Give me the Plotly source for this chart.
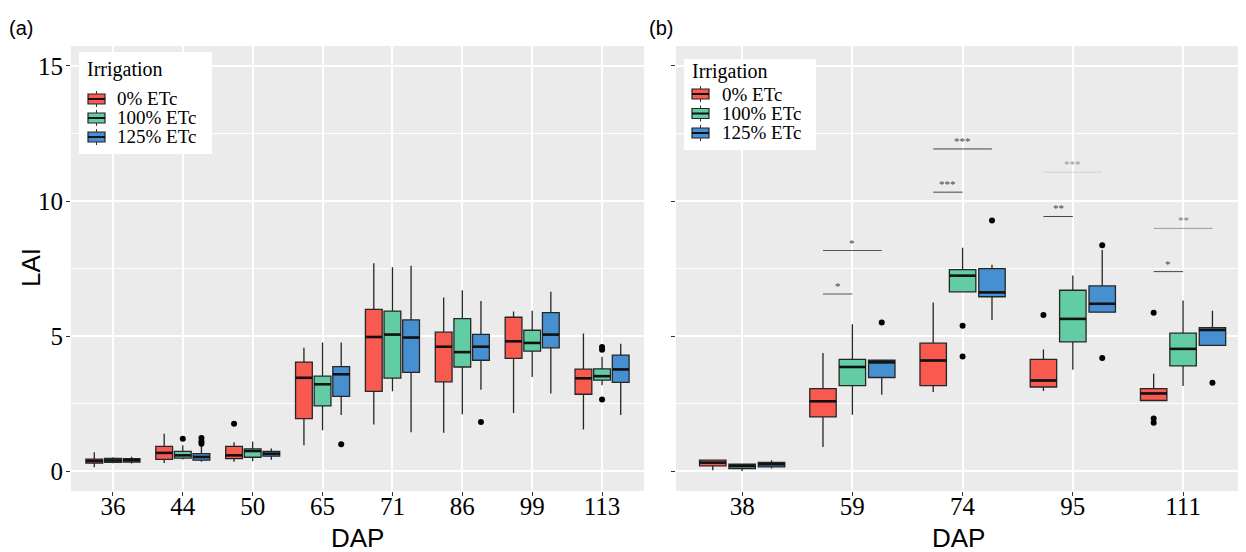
import plotly.graph_objects as go

# page body has an 8px margin: figure is sized to fit inside the window
OFF = 8
W, H = 1246 - OFF, 552 - OFF

series = ["0% ETc", "100% ETc", "125% ETc"]
colors = ["#F85A50", "#62CDA4", "#4690D2"]

# ---------------- Panel (a) ----------------
dap_a = ["36", "44", "50", "65", "71", "86", "99", "113"]
# one row per irrigation level, one value per DAP
a_q1 = [[0.30, 0.44, 0.47, 1.95, 2.96, 3.31, 4.18, 2.85],
        [0.33, 0.49, 0.52, 2.42, 3.45, 3.86, 4.45, 3.37],
        [0.34, 0.41, 0.56, 2.77, 3.66, 4.11, 4.57, 3.29]]
a_med = [[0.38, 0.68, 0.59, 3.46, 4.97, 4.61, 4.81, 3.44],
         [0.40, 0.59, 0.75, 3.22, 5.06, 4.41, 4.75, 3.52],
         [0.41, 0.53, 0.65, 3.59, 4.95, 4.61, 5.06, 3.77]]
a_q3 = [[0.45, 0.92, 0.92, 4.04, 5.99, 5.15, 5.70, 3.78],
        [0.48, 0.74, 0.83, 3.52, 5.93, 5.65, 5.22, 3.79],
        [0.47, 0.65, 0.74, 3.87, 5.60, 5.07, 5.87, 4.30]]
a_low = [[0.15, 0.31, 0.35, 0.96, 1.73, 1.43, 2.16, 1.55],
         [0.30, 0.44, 0.37, 1.52, 2.96, 2.11, 3.49, 3.18],
         [0.29, 0.35, 0.43, 2.08, 1.44, 3.02, 2.88, 2.08]]
a_high = [[0.70, 1.39, 1.07, 4.57, 7.70, 6.43, 5.91, 5.10],
          [0.52, 0.96, 1.10, 4.77, 7.55, 6.70, 5.94, 4.24],
          [0.54, 0.96, 0.84, 4.77, 7.61, 6.30, 6.64, 4.72]]
a_out_series = [1, 2, 2, 2, 0, 2, 2, 1, 1, 1]
a_out_dap = ["44", "44", "44", "44", "50", "65", "86", "113", "113", "113"]
a_out_val = [1.20, 1.02, 1.10, 1.23, 1.76, 1.00, 1.82, 4.50, 4.60, 2.66]

# ---------------- Panel (b) ----------------
dap_b = ["38", "59", "74", "95", "111"]
b_q1 = [[0.20, 2.01, 3.17, 3.12, 2.62],
        [0.10, 3.17, 6.64, 4.79, 3.90],
        [0.16, 3.47, 6.46, 5.89, 4.66]]
b_med = [[0.32, 2.59, 4.10, 3.36, 2.88],
         [0.19, 3.86, 7.24, 5.64, 4.53],
         [0.26, 4.03, 6.62, 6.20, 5.23]]
b_q3 = [[0.41, 3.06, 4.74, 4.14, 3.06],
        [0.26, 4.14, 7.46, 6.70, 5.11],
        [0.33, 4.11, 7.50, 6.86, 5.32]]
b_low = [[0.04, 0.90, 2.93, 2.97, 2.62],
         [0.01, 2.09, 6.64, 3.76, 3.16],
         [0.10, 2.83, 5.60, 5.89, 4.66]]
b_high = [[0.44, 4.38, 6.25, 4.51, 3.61],
          [0.29, 5.44, 8.27, 7.25, 6.32],
          [0.41, 4.11, 7.64, 8.19, 5.94]]
b_out_series = [2, 1, 1, 2, 0, 2, 2, 0, 0, 0, 2]
b_out_dap = ["59", "74", "74", "74", "95", "95", "95", "111", "111", "111", "111"]
b_out_val = [5.51, 5.39, 4.25, 9.28, 5.78, 8.37, 4.19, 5.87, 1.95, 1.80, 3.28]

# significance brackets (panel b): from series index to series index at DAP
sig_dap = ["59", "59", "74", "74", "95", "95", "111", "111"]
sig_from = [0, 0, 0, 0, 0, 0, 0, 0]
sig_to = [1, 2, 1, 2, 1, 2, 1, 2]
sig_y = [6.56, 8.17, 10.33, 11.93, 9.43, 11.07, 7.39, 8.99]
sig_label = ["*", "*", "***", "***", "**", "***", "*", "**"]
sig_line_color = ["#555555", "#555555", "#444444", "#444444", "#444444", "#d0d0d0", "#444444", "#999999"]
sig_text_color = ["#444444", "#444444", "#444444", "#444444", "#444444", "#999999", "#444444", "#777777"]

# ---------------- layout constants ----------------
offs = [-0.8 / 3, 0.0, 0.8 / 3]
bw = 0.24
serif = "Liberation Serif"
sans = "Liberation Sans"

def fx(p):  # screen pixel -> paper fraction
    return (p - OFF) / W

def fy(p):
    return 1 - (p - OFF) / H

fig = go.Figure()
shapes = []
annotations = []

def add_panel(cats, q1, med, q3, low, high, oser, odap, oval, xa, ya):
    for s in range(3):
        xs = [i + offs[s] for i in range(len(cats))]
        fig.add_trace(go.Box(
            x=xs, q1=q1[s], median=med[s], q3=q3[s],
            lowerfence=low[s], upperfence=high[s],
            width=bw, whiskerwidth=0, boxpoints=False,
            fillcolor=colors[s], line=dict(color="#262626", width=1.3),
            name=series[s], xaxis=xa, yaxis=ya,
            showlegend=False, hoverinfo="skip"))
        for i in range(len(cats)):
            shapes.append(dict(type="line", xref=xa, yref=ya,
                               x0=xs[i] - bw / 2, x1=xs[i] + bw / 2,
                               y0=med[s][i], y1=med[s][i],
                               line=dict(color="#111111", width=2.6)))
    ox = [cats.index(d) + offs[s] for d, s in zip(odap, oser)]
    fig.add_trace(go.Scatter(x=ox, y=oval, mode="markers", xaxis=xa, yaxis=ya,
                             marker=dict(color="black", size=6),
                             showlegend=False, hoverinfo="skip"))

add_panel(dap_a, a_q1, a_med, a_q3, a_low, a_high,
          a_out_series, a_out_dap, a_out_val, "x", "y")
add_panel(dap_b, b_q1, b_med, b_q3, b_low, b_high,
          b_out_series, b_out_dap, b_out_val, "x2", "y2")

for d, f, t, y, lab, lc, tc in zip(sig_dap, sig_from, sig_to, sig_y, sig_label,
                                    sig_line_color, sig_text_color):
    i = dap_b.index(d)
    x0 = i + offs[f]
    x1 = i + offs[t]
    shapes.append(dict(type="line", xref="x2", yref="y2", x0=x0, x1=x1, y0=y, y1=y,
                       line=dict(color=lc, width=1)))
    annotations.append(dict(x=(x0 + x1) / 2, y=y, xref="x2", yref="y2", text=lab,
                            showarrow=False, xanchor="center", yanchor="bottom", yshift=0,
                            font=dict(family=serif, size=11, color=tc)))

# ---- legends drawn as boxes + real text ----
def add_legend(bx0, bx1, by0, by1, title_x, title_y, icon_x0, icon_x1, item_y0, step, text_x):
    shapes.append(dict(type="rect", xref="paper", yref="paper",
                       x0=fx(bx0), x1=fx(bx1), y0=fy(by1), y1=fy(by0),
                       fillcolor="white", line=dict(width=0), layer="above"))
    annotations.append(dict(text="Irrigation", x=fx(title_x), y=fy(title_y),
                            xref="paper", yref="paper", showarrow=False,
                            xanchor="left", yanchor="middle",
                            font=dict(family=serif, size=20, color="black")))
    cx = (icon_x0 + icon_x1) / 2
    for k, name in enumerate(series):
        cy = item_y0 + step * k
        shapes.append(dict(type="line", xref="paper", yref="paper",
                           x0=fx(cx), x1=fx(cx), y0=fy(cy - 8), y1=fy(cy + 8),
                           line=dict(color="#333333", width=1), layer="above"))
        shapes.append(dict(type="rect", xref="paper", yref="paper",
                           x0=fx(icon_x0), x1=fx(icon_x1), y0=fy(cy + 5), y1=fy(cy - 5),
                           fillcolor=colors[k], line=dict(color="#222222", width=1.2),
                           layer="above"))
        shapes.append(dict(type="line", xref="paper", yref="paper",
                           x0=fx(icon_x0), x1=fx(icon_x1), y0=fy(cy), y1=fy(cy),
                           line=dict(color="#111111", width=2), layer="above"))
        annotations.append(dict(text=name, x=fx(text_x), y=fy(cy),
                                xref="paper", yref="paper", showarrow=False,
                                xanchor="left", yanchor="middle",
                                font=dict(family=serif, size=19, color="black")))

add_legend(79, 212, 52, 154, 85, 69, 88, 105, 99, 19, 115)
add_legend(684, 816, 59, 150, 690, 71, 692, 709, 94, 19.5, 720)

# axis titles and panel tags
annotations += [
    dict(text="DAP", x=fx(357.5), y=fy(538), xref="paper", yref="paper",
         xanchor="center", yanchor="middle",
         showarrow=False, font=dict(family=sans, size=26, color="black")),
    dict(text="DAP", x=fx(958), y=fy(538), xref="paper", yref="paper",
         xanchor="center", yanchor="middle",
         showarrow=False, font=dict(family=sans, size=26, color="black")),
    dict(text="LAI", x=fx(31), y=fy(268), xref="paper", yref="paper",
         xanchor="center", yanchor="middle",
         showarrow=False, textangle=-90, font=dict(family=sans, size=26, color="black")),
    dict(text="(a)", x=fx(21), y=fy(28), xref="paper", yref="paper",
         xanchor="center", yanchor="middle",
         showarrow=False, font=dict(family=sans, size=20, color="black")),
    dict(text="(b)", x=fx(661), y=fy(28), xref="paper", yref="paper",
         xanchor="center", yanchor="middle",
         showarrow=False, font=dict(family=sans, size=20, color="black")),
]

yr = [-0.73, 15.74]
ycommon = dict(range=yr, tickvals=[0, 5, 10, 15], ticks="outside", ticklen=4,
               tickcolor="#333333", showgrid=True, gridcolor="white", gridwidth=1.6,
               minor=dict(dtick=2.5, tick0=0, showgrid=True, gridcolor="white", gridwidth=0.7),
               zeroline=False, showline=False, automargin=False,
               domain=[fy(491), fy(46)], fixedrange=True)
xcommon = dict(ticks="outside", ticklen=4, tickcolor="#333333", showgrid=True,
               gridcolor="white", gridwidth=1.6, zeroline=False, showline=False,
               automargin=False, ticklabelstandoff=-11,
               tickfont=dict(family=serif, size=25, color="black"))

fig.update_layout(
    width=W, height=H, margin=dict(l=0, r=0, t=0, b=0),
    paper_bgcolor="white", plot_bgcolor="#EBEBEB", template="none",
    xaxis=dict(xcommon, domain=[fx(71), fx(644)], range=[-0.6, 7.6],
               tickvals=list(range(len(dap_a))), ticktext=dap_a),
    yaxis=dict(ycommon, ticktext=["0", "5", "10", "15"], anchor="x",
               ticklabelstandoff=-2,
               tickfont=dict(family=serif, size=25, color="black")),
    xaxis2=dict(xcommon, domain=[fx(676), 1.0], range=[-0.6, 4.571],
                tickvals=list(range(len(dap_b))), ticktext=dap_b, anchor="y2"),
    yaxis2=dict(ycommon, showticklabels=False, anchor="x2", matches="y"),
    shapes=shapes, annotations=annotations, showlegend=False,
)

fig.write_html("out.html")
